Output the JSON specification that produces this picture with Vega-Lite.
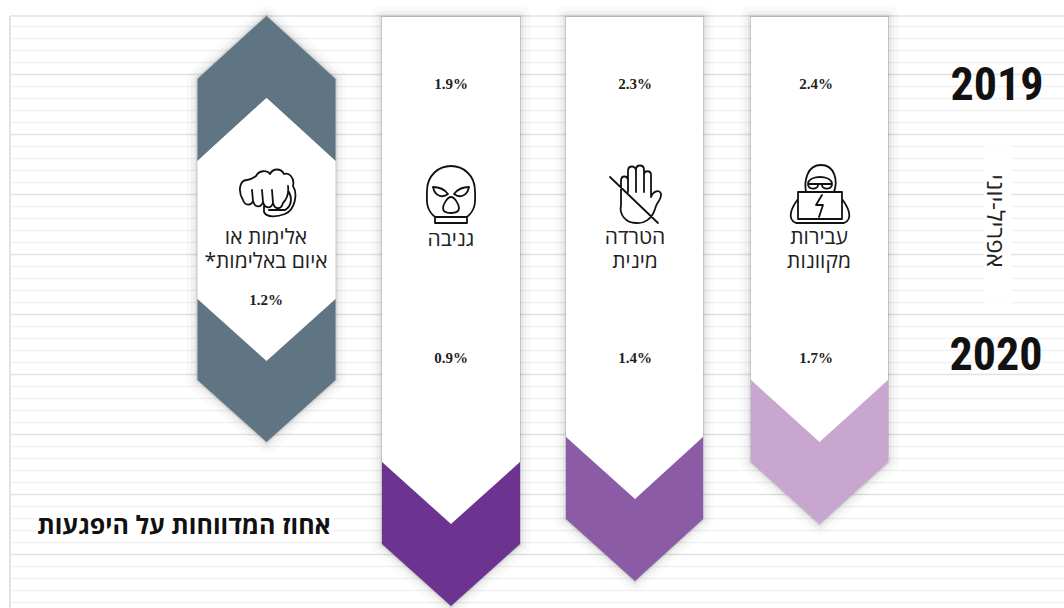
{"$schema":"https://vega.github.io/schema/vega-lite/v6.json","width":1064,"height":608,"padding":0,"autosize":{"type":"none"},"background":"#ffffff","config":{"view":{"stroke":null},"axis":{"disable":true}},
"datasets":{
"grid":[{"k":"minor","y":26.5},{"k":"minor","y":38.5},{"k":"minor","y":50.5},{"k":"minor","y":62.5},{"k":"major","y":74.5},{"k":"minor","y":86.5},{"k":"minor","y":98.5},{"k":"minor","y":110.5},{"k":"minor","y":122.5},{"k":"major","y":134.5},{"k":"minor","y":146.5},{"k":"minor","y":158.5},{"k":"minor","y":170.5},{"k":"minor","y":182.5},{"k":"major","y":194.5},{"k":"minor","y":206.5},{"k":"minor","y":218.5},{"k":"minor","y":230.5},{"k":"minor","y":242.5},{"k":"major","y":254.5},{"k":"minor","y":266.5},{"k":"minor","y":278.5},{"k":"minor","y":290.5},{"k":"minor","y":302.5},{"k":"major","y":314.5},{"k":"minor","y":326.5},{"k":"minor","y":338.5},{"k":"minor","y":350.5},{"k":"minor","y":362.5},{"k":"major","y":374.5},{"k":"minor","y":386.5},{"k":"minor","y":398.5},{"k":"minor","y":410.5},{"k":"minor","y":422.5},{"k":"major","y":434.5},{"k":"minor","y":446.5},{"k":"minor","y":458.5},{"k":"minor","y":470.5},{"k":"minor","y":482.5},{"k":"major","y":494.5},{"k":"minor","y":506.5},{"k":"minor","y":518.5},{"k":"minor","y":530.5},{"k":"minor","y":542.5},{"k":"major","y":554.5},{"k":"minor","y":566.5},{"k":"minor","y":578.5},{"k":"minor","y":590.5},{"k":"minor","y":602.5},{"k":"major","y":16}],
"patches":[{"n":"title","x":36,"x2":333,"y":508,"y2":541},{"n":"period","x":984,"x2":1011,"y":146,"y2":303}],
"outlines":[
{"part":"violence","x":197.5,"y":79,"y2":380},{"part":"violence","x":266.5,"y":16,"y2":442},{"part":"violence","x":335.5,"y":79,"y2":380},
{"part":"theft","x":382,"y":17,"y2":544},{"part":"theft","x":451,"y":17,"y2":606},{"part":"theft","x":520,"y":17,"y2":544},
{"part":"harass","x":566,"y":17,"y2":519},{"part":"harass","x":635,"y":17,"y2":581},{"part":"harass","x":703,"y":17,"y2":519},
{"part":"cyber","x":751,"y":17,"y2":462},{"part":"cyber","x":819.5,"y":17,"y2":524},{"part":"cyber","x":888,"y":17,"y2":462}
],
"panels":[
{"part":"violence-top","kind":"slate","x":197.5,"y":79,"y2":161},{"part":"violence-top","kind":"slate","x":266.5,"y":16,"y2":98},{"part":"violence-top","kind":"slate","x":335.5,"y":79,"y2":161},
{"part":"violence-body","kind":"white","x":197.5,"y":161,"y2":299},{"part":"violence-body","kind":"white","x":266.5,"y":98,"y2":361},{"part":"violence-body","kind":"white","x":335.5,"y":161,"y2":299},
{"part":"violence-bottom","kind":"slate","x":197.5,"y":299,"y2":380},{"part":"violence-bottom","kind":"slate","x":266.5,"y":361,"y2":442},{"part":"violence-bottom","kind":"slate","x":335.5,"y":299,"y2":380},
{"part":"theft-body","kind":"white","x":382,"y":17,"y2":462},{"part":"theft-body","kind":"white","x":451,"y":17,"y2":524},{"part":"theft-body","kind":"white","x":520,"y":17,"y2":462},
{"part":"theft-bottom","kind":"deep","x":382,"y":462,"y2":544},{"part":"theft-bottom","kind":"deep","x":451,"y":524,"y2":606},{"part":"theft-bottom","kind":"deep","x":520,"y":462,"y2":544},
{"part":"harass-body","kind":"white","x":566,"y":17,"y2":437},{"part":"harass-body","kind":"white","x":635,"y":17,"y2":499},{"part":"harass-body","kind":"white","x":703,"y":17,"y2":437},
{"part":"harass-bottom","kind":"mid","x":566,"y":437,"y2":519},{"part":"harass-bottom","kind":"mid","x":635,"y":499,"y2":581},{"part":"harass-bottom","kind":"mid","x":703,"y":437,"y2":519},
{"part":"cyber-body","kind":"white","x":751,"y":17,"y2":380},{"part":"cyber-body","kind":"white","x":819.5,"y":17,"y2":442},{"part":"cyber-body","kind":"white","x":888,"y":17,"y2":380},
{"part":"cyber-bottom","kind":"light","x":751,"y":380,"y2":462},{"part":"cyber-bottom","kind":"light","x":819.5,"y":442,"y2":524},{"part":"cyber-bottom","kind":"light","x":888,"y":380,"y2":462}
],
"values":[{"t":"1.9%","x":451,"y":84},{"t":"2.3%","x":635,"y":84},{"t":"2.4%","x":816,"y":84},{"t":"1.2%","x":266,"y":300},{"t":"0.9%","x":451,"y":358},{"t":"1.4%","x":635,"y":358},{"t":"1.7%","x":816,"y":358}],
"labels":[{"t":["אלימות או","איום באלימות*\u200f"],"x":266,"y":238},{"t":["גניבה"],"x":451,"y":240},{"t":["הטרדה","מינית"],"x":635,"y":238},{"t":["עבירות","מקוונות"],"x":819,"y":238}],
"years":[{"t":"2019","x":997,"y":86},{"t":"2020","x":996,"y":356}],
"icons":[{"icon":"fist","x":267,"y":192},{"icon":"mask","x":451,"y":195},{"icon":"hand","x":636,"y":195},{"icon":"hacker","x":820,"y":195}]
},
"layer":[
{"data":{"name":"grid"},"transform":[{"filter":"datum.k==='minor'"}],"mark":{"type":"rule","strokeWidth":1.5,"color":"#f1f1f1"},"encoding":{"x":{"datum":10,"type":"quantitative","scale":{"domain":[0,1064],"nice":false,"zero":false}},"x2":{"datum":1064},"y":{"field":"y","type":"quantitative","scale":{"domain":[608,0],"nice":false,"zero":false}}}},
{"data":{"name":"grid"},"transform":[{"filter":"datum.k==='major'"}],"mark":{"type":"rule","strokeWidth":1.5,"color":"#e2e2e2"},"encoding":{"x":{"datum":10,"type":"quantitative"},"x2":{"datum":1064},"y":{"field":"y","type":"quantitative"}}},
{"data":{"values":[{"y":16,"y2":608}]},"mark":{"type":"rule","strokeWidth":1.5,"color":"#d8d8d8"},"encoding":{"x":{"datum":10,"type":"quantitative"},"y":{"field":"y","type":"quantitative"},"y2":{"field":"y2"}}},
{"data":{"name":"patches"},"mark":{"type":"rect","color":"#ffffff"},"encoding":{"x":{"field":"x","type":"quantitative"},"x2":{"field":"x2"},"y":{"field":"y","type":"quantitative"},"y2":{"field":"y2"}}},
{"data":{"name":"outlines"},"mark":{"type":"area","fillOpacity":0,"stroke":"#000000","strokeOpacity":0.02,"strokeWidth":22,"strokeJoin":"round"},"encoding":{"x":{"field":"x","type":"quantitative"},"y":{"field":"y","type":"quantitative","stack":false},"y2":{"field":"y2"},"detail":{"field":"part"}}},
{"data":{"name":"outlines"},"mark":{"type":"area","fillOpacity":0,"stroke":"#000000","strokeOpacity":0.03,"strokeWidth":13,"strokeJoin":"round"},"encoding":{"x":{"field":"x","type":"quantitative"},"y":{"field":"y","type":"quantitative","stack":false},"y2":{"field":"y2"},"detail":{"field":"part"}}},
{"data":{"name":"outlines"},"mark":{"type":"area","fillOpacity":0,"stroke":"#000000","strokeOpacity":0.05,"strokeWidth":6,"strokeJoin":"round"},"encoding":{"x":{"field":"x","type":"quantitative"},"y":{"field":"y","type":"quantitative","stack":false},"y2":{"field":"y2"},"detail":{"field":"part"}}},
{"data":{"name":"outlines"},"mark":{"type":"area","fillOpacity":0,"stroke":"#000000","strokeOpacity":0.13,"strokeWidth":2,"strokeJoin":"miter"},"encoding":{"x":{"field":"x","type":"quantitative"},"y":{"field":"y","type":"quantitative","stack":false},"y2":{"field":"y2"},"detail":{"field":"part"}}},
{"data":{"name":"panels"},"mark":{"type":"area","opacity":1},"encoding":{"x":{"field":"x","type":"quantitative"},"y":{"field":"y","type":"quantitative","stack":false},"y2":{"field":"y2"},"detail":{"field":"part"},"color":{"field":"kind","type":"nominal","legend":null,"scale":{"domain":["white","slate","deep","mid","light"],"range":["#ffffff","#5f7583","#6c3391","#8b5ba6","#c9a6d0"]}}}},
{"data":{"name":"icons"},"mark":{"type":"point","filled":false,"opacity":1,"stroke":"#111111","strokeWidth":1.8,"size":4,"strokeCap":"round","strokeJoin":"round"},"encoding":{"x":{"field":"x","type":"quantitative"},"y":{"field":"y","type":"quantitative"},"shape":{"field":"icon","type":"nominal","legend":null,"scale":{"domain":["fist","mask","hand","hacker"],"range":[
"M-24 8 C-29 0 -28 -12 -20 -12 C-16 -12 -14 -14 -11 -16 C-8 -22 0 -22 3 -18 C6 -24 14 -24 17 -18 C22 -20 28 -14 26 -6 C31 2 28 18 18 22 C10 25 0 26 -3 20 L-3 14 M-24 8 C-22 14 -16 14 -14 9 L-15 -2 M-14 9 C-12 16 -6 16 -4 10 L-5 -2 M-4 10 C-2 17 4 17 6 11 L5 -2 M6 11 C8 18 14 18 16 11 C19 8 22 2 21 -6 M22 0 C25 6 25 14 18 18 L2 18",
"M-16 22 C-26 14 -24 4 -24 -4 C-24 -20 -12 -29 0 -29 C12 -29 24 -20 24 -4 C24 4 26 14 16 22 Z M-16 22 L-16 28 L16 28 L16 22 M-18 -8 C-12 -8 -6 -5 -3 -1 C-8 3 -16 2 -18 -8 Z M18 -8 C12 -8 6 -5 3 -1 C8 3 16 2 18 -8 Z M0 2 C4 2 8 10 8 13 C8 17 4 18 0 18 C-4 18 -8 17 -8 13 C-8 10 -4 2 0 2 Z",
"M-15 10 L-15 -14 C-15 -20 -8 -20 -8 -14 M-8 -3 L-8 -24 C-8 -30 0 -30 0 -24 L0 -3 M0 -25 C0 -31 8 -31 8 -25 L8 -3 M8 -20 C8 -25 15 -25 15 -20 L15 2 C17 -4 24 -6 25 -1 C26 4 20 8 19 14 C16 24 8 29 0 28 C-10 28 -17 20 -15 10 M-26 -18 L22 28",
"M-14 -3 C-16 -14 -13 -30 1 -30 C15 -30 18 -14 14 -3 M-12 -11 L12 -11 M-12 -11 C-12 -5 -2 -5 -2 -10 M2 -10 C2 -5 12 -5 12 -11 M-12 -12 C-10 -20 10 -20 12 -12 M-22 -3 L22 -3 L22 24 L-22 24 Z M-22 4 C-28 12 -34 24 -24 28 L24 28 C34 24 28 12 22 4 M2 0 L-4 10 L3 10 L-1 22"
]}}}},
{"data":{"name":"values"},"mark":{"type":"text","font":"Liberation Serif","fontWeight":"bold","fontSize":15,"color":"#222222","align":"center","baseline":"middle"},"encoding":{"x":{"field":"x","type":"quantitative"},"y":{"field":"y","type":"quantitative"},"text":{"field":"t"}}},
{"data":{"name":"labels"},"mark":{"type":"text","font":"Open Sans","fontSize":21,"lineHeight":24,"color":"#222222","align":"center","baseline":"middle"},"encoding":{"x":{"field":"x","type":"quantitative"},"y":{"field":"y","type":"quantitative"},"text":{"field":"t"}}},
{"data":{"name":"years"},"mark":{"type":"text","font":"Roboto Condensed, Noto Sans Condensed, DejaVu Sans Condensed, sans-serif","fontWeight":"bold","fontSize":46,"color":"#111111","align":"center","baseline":"middle"},"encoding":{"x":{"field":"x","type":"quantitative"},"y":{"field":"y","type":"quantitative"},"text":{"field":"t"}}},
{"data":{"values":[{"t":"אפריל-יוני","x":993.5,"y":221}]},"mark":{"type":"text","font":"Open Sans","fontSize":24,"angle":90,"color":"#222222","align":"center","baseline":"middle"},"encoding":{"x":{"field":"x","type":"quantitative"},"y":{"field":"y","type":"quantitative"},"text":{"field":"t"}}},
{"data":{"values":[{"t":"אחוז המדווחות על היפגעות","x":184,"y":526}]},"mark":{"type":"text","font":"Open Sans","fontWeight":"bold","fontSize":25,"color":"#111111","align":"center","baseline":"middle"},"encoding":{"x":{"field":"x","type":"quantitative"},"y":{"field":"y","type":"quantitative"},"text":{"field":"t"}}}
]}
